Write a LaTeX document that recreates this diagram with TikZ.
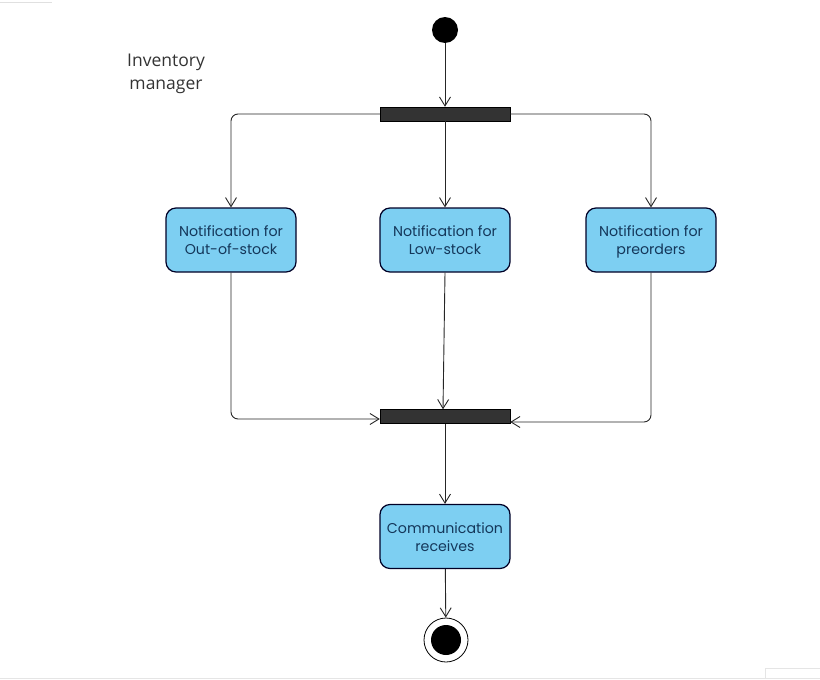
\documentclass[tikz,border=0pt]{standalone}
\usepackage{fontspec}
\setmainfont{Poppins}
\newfontfamily\labelfont{Open Sans}
\usetikzlibrary{arrows.meta}
\definecolor{boxfill}{HTML}{7DCFF2}
\definecolor{boxtext}{HTML}{14375A}
\definecolor{barfill}{HTML}{333333}
\newcommand{\topstrut}{\rule{0pt}{16.6pt}}
\tikzset{
  action/.style={draw=black!85!blue, line width=1.2pt, fill=boxfill, rounded corners=10pt,
    minimum width=130pt, minimum height=64pt, align=center, text=boxtext,
    font=\fontsize{14.2}{18}\selectfont, inner sep=0pt},
  syncbar/.style={draw=black, fill=barfill, minimum width=130pt, minimum height=14pt, inner sep=0pt},
  flow/.style={draw=black!85, line width=0.9pt, rounded corners=7pt,
    -{Straight Barb[length=9pt,width=11pt,line width=0.9pt]}},
}
\begin{document}
\begin{tikzpicture}[x=1pt,y=-1pt]
\path[use as bounding box] (0,0) rectangle (820,680);
% faint frame artifacts
\draw[black!12, line width=0.6pt] (0,2) -- (52,2);
\draw[black!10, line width=0.6pt] (0,678) -- (820,678);
\draw[black!10, line width=0.6pt] (765,678) -- (765,668) -- (820,668);

\node[font=\labelfont\fontsize{17.5}{23}\selectfont, text=black!80, align=center] (title) at (166,74) {Inventory\\manager};

\node[circle, fill=black, minimum size=26pt, inner sep=0pt] (start) at (445,30) {};
\node[syncbar] (fork) at (445,114) {};
\node[action] (oos) at (231,240) {Notification for\topstrut\\Out-of-stock\strut};
\node[action] (low) at (445,240) {Notification for\topstrut\\Low-stock\strut};
\node[action] (pre) at (651,240) {Notification for\topstrut\\preorders\strut};
\node[syncbar] (join) at (445,416.5) {};
\node[action] (comm) at (445,536.5) {Communication\topstrut\\receives\strut};
\node[circle, draw=black, line width=0.8pt, fill=white, minimum size=44pt, inner sep=0pt] (end) at (446,640) {};
\node[circle, fill=black, minimum size=30pt, inner sep=0pt] (endin) at (446,640) {};

\draw[flow] (start) -- (fork);
\draw[flow] (fork.west) -| (oos.north);
\draw[flow] (fork) -- (low);
\draw[flow] (fork.east) -| (pre.north);
\draw[flow] (oos.south) |- ([yshift=-2.5pt]join.west);
\draw[flow] (low.south) -- ([xshift=-2pt]join.north);
\draw[flow] (pre.south) |- ([yshift=-5.5pt]join.east);
\draw[flow] (join) -- (comm);
\draw[flow] (comm) -- (end);
\end{tikzpicture}
\end{document}
